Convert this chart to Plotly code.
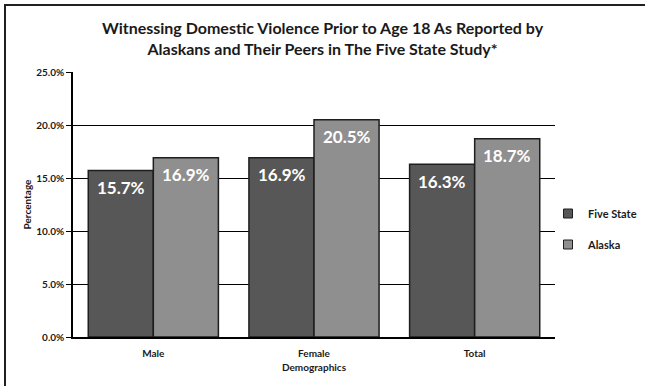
import plotly.graph_objects as go

# Chart data
categories = ["Male", "Female", "Total"]
five_state = [15.7, 16.9, 16.3]
alaska = [16.9, 20.5, 18.7]
y_ticks = [0, 5, 10, 15, 20, 25]
y_tick_labels = ["0.0%", "5.0%", "10.0%", "15.0%", "20.0%", "25.0%"]

FONT = "Lato, 'Open Sans', sans-serif"
W, H = 645, 386
L, R, T, B = 73, 90, 72, 49
BAR_W = 65  # pixel width of one bar inside a group
OUTLINE = "#1e1e1e"

series = [("Five State", five_state, "#575757", -BAR_W / 2),
          ("Alaska", alaska, "#8f8f8f", BAR_W / 2)]

fig = go.Figure()
for name, values, color, shift in series:
    fig.add_trace(go.Bar(
        name=name, x=categories, y=values, legendgroup=name, showlegend=False,
        marker=dict(color=color, line=dict(color=OUTLINE, width=1.5)),
        hoverinfo="x+y",
    ))
    # small square key for the legend
    fig.add_trace(go.Scatter(
        name=name, x=[None], y=[None], mode="markers", legendgroup=name,
        marker=dict(symbol="square", size=9, color=color, line=dict(color=OUTLINE, width=1)),
    ))
    # value labels sitting just inside the top of each bar
    for cat, v in zip(categories, values):
        fig.add_annotation(
            x=cat, y=v, xref="x", yref="y", xshift=shift, yshift=-17,
            text=f"{v:.1f}%", showarrow=False, xanchor="center", yanchor="middle",
            font=dict(family=FONT, size=17, color="white", weight="bold"),
        )

# page frame (top and left edges)
pw, ph = W - L - R, H - T - B
def px_x(p):
    return (p - L) / pw
def px_y(p):
    return (H - B - p) / ph

fig.add_shape(type="line", xref="paper", yref="paper", x0=px_x(4), x1=px_x(646),
              y0=px_y(5), y1=px_y(5), line=dict(color="#202020", width=2))
fig.add_shape(type="line", xref="paper", yref="paper", x0=px_x(5), x1=px_x(5),
              y0=px_y(4), y1=px_y(390), line=dict(color="#202020", width=2))

fig.update_layout(
    width=W, height=H,
    margin=dict(l=L, r=R, t=T, b=B, autoexpand=False),
    paper_bgcolor="white", plot_bgcolor="white",
    barmode="group", bargap=0.19, bargroupgap=0,
    font=dict(family=FONT, color="#1a1a1a"),
    title=dict(
        text="Witnessing Domestic Violence Prior to Age 18 As Reported by<br>Alaskans and Their Peers in The Five State Study*",
        x=0.5, xref="container", xanchor="center",
        y=1 - 34 / H, yref="container", yanchor="top",
        font=dict(family=FONT, size=16, color="#1a1a1a", weight="bold"),
    ),
    showlegend=True,
    legend=dict(
        xref="container", yref="container",
        x=548 / W, xanchor="left", y=1 - 229 / H, yanchor="middle",
        font=dict(family=FONT, size=11, color="#1a1a1a", weight="bold"),
        tracegroupgap=12, itemwidth=30,
        bgcolor="rgba(0,0,0,0)",
    ),
    xaxis=dict(
        showline=True, linecolor="black", linewidth=1.5,
        ticks="", ticklabelstandoff=6,
        tickfont=dict(family=FONT, size=10, color="#1a1a1a", weight="bold"),
        title=dict(text="Demographics", standoff=6,
                   font=dict(family=FONT, size=10, color="#1a1a1a", weight="bold")),
    ),
    yaxis=dict(
        range=[0, 25], tickvals=y_ticks, ticktext=y_tick_labels,
        showline=True, linecolor="black", linewidth=1.5,
        showgrid=True, gridcolor="black", gridwidth=1,
        ticks="outside", ticklen=5, tickcolor="black",
        tickfont=dict(family=FONT, size=10, color="#1a1a1a", weight="bold"),
        title=dict(text="Percentage", standoff=3,
                   font=dict(family=FONT, size=10, color="#1a1a1a", weight="bold")),
        zeroline=False,
    ),
)

fig.write_html("out.html")
